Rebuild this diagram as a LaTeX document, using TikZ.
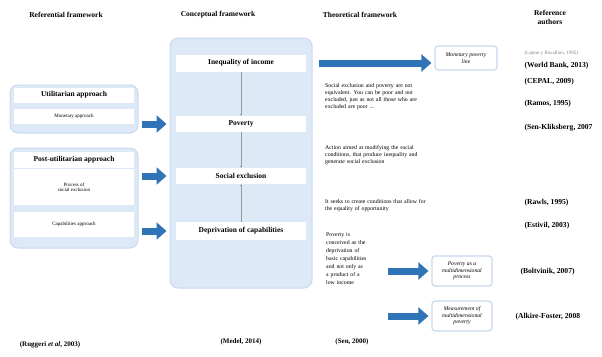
\documentclass[tikz,border=0pt]{standalone}
\usepackage{fontspec}
\setmainfont{Liberation Serif}
\usetikzlibrary{positioning, arrows.meta}
\definecolor{panelblue}{RGB}{221,233,247}
\definecolor{paneledge}{RGB}{200,217,238}
\definecolor{arrowblue}{RGB}{46,116,182}
\newcommand{\fsz}[1]{\fontsize{#1}{#1}\selectfont}

\begin{document}
\begin{tikzpicture}[x=1pt,y=-1pt,
    panel/.style={draw=paneledge, fill=panelblue, line width=1pt, rounded corners=8pt},
    bar/.style={fill=white, align=center, inner sep=1pt, font=\bfseries\fsz{7.5}},
    subbox/.style={fill=white, align=center, inner sep=1pt, font=\fsz{5}},
    header/.style={align=center, font=\bfseries\fsz{7.5}},
    theory/.style={anchor=north west, align=left, inner sep=0pt, font=\fontsize{5.8}{7.2}\selectfont},
    author/.style={anchor=west, font=\bfseries\fsz{7.6}},
    bottomref/.style={font=\bfseries\fsz{7}},
    ideabox/.style={draw=paneledge, fill=white, line width=1.2pt, rounded corners=3pt, align=center, font=\itshape\fontsize{5.7}{6.4}\selectfont},
    bigarrow/.style={draw=arrowblue, line width=7pt, -{Triangle[width=17pt,length=10pt]}},
    thinarrow/.style={draw=black!40, line width=0.4pt, -{Stealth[length=2pt,width=2pt]}}]
    \useasboundingbox (0,0) rectangle (602,356);

    % column headers
    \node[header] (h-ref) at (66,15) {Referential framework};
    \node[header] (h-con) at (218,15) {Conceptual framework};
    \node[header] (h-theo) at (360,15) {Theoretical framework};
    \node[header, font=\bfseries\fontsize{7.5}{9}\selectfont] (h-auth) at (550,17) {Reference\\authors};

    % referential framework
    \node[panel, minimum width=128pt, minimum height=48pt] (util) at (74,109) {};
    \node[bar, minimum width=120pt, minimum height=15pt] (util-t) at (74,95) {Utilitarian approach};
    \node[subbox, minimum width=120pt, minimum height=15pt] (monetary) at (74,116) {Monetary approach};
    \node[panel, minimum width=128pt, minimum height=100pt] (postutil) at (74,198) {};
    \node[bar, minimum width=120pt, minimum height=16pt] (postutil-t) at (74,160) {Post-utilitarian approach};
    \node[subbox, minimum width=120pt, minimum height=36pt] (process) at (74,187) {Process of\\social exclusion};
    \node[subbox, minimum width=120pt, minimum height=25pt] (capab) at (74,224) {Capabilities approach};

    % conceptual framework
    \node[panel, minimum width=142pt, minimum height=250pt] (concept) at (241,163) {};
    \node[bar, minimum width=130pt, minimum height=17pt] (income) at (241,63) {Inequality of income};
    \node[bar, minimum width=130pt, minimum height=16pt] (poverty) at (241,124) {Poverty};
    \node[bar, minimum width=130pt, minimum height=16pt] (socexcl) at (241,176) {Social exclusion};
    \node[bar, minimum width=130pt, minimum height=18pt] (depriv) at (241,231) {Deprivation of capabilities};
    \draw[thinarrow] (income) -- (poverty);
    \draw[thinarrow] (poverty) -- (socexcl);
    \draw[thinarrow] (depriv) -- (socexcl);

    % theoretical framework
    \node[theory, text width=96pt] (t-equiv) at (325,83) {Social exclusion and poverty are not\\equivalent. You can be poor and not\\excluded, just as not all those who are\\excluded are poor ...};
    \node[theory, text width=96pt] (t-action) at (325,145) {Action aimed at modifying the social\\conditions, that produce inequality and\\generate social exclusion};
    \node[theory, text width=110pt] (t-seeks) at (325,199) {It seeks to create conditions that allow for\\the equality of opportunity};
    \node[theory, text width=50pt, font=\fontsize{5.8}{8}\selectfont] (t-pov) at (326,232) {Poverty is\\conceived as the\\deprivation of\\basic capabilities\\and not only as\\a product of a\\low income};

    \node[ideabox, minimum width=62pt, minimum height=24pt] (money) at (466,58) {Monetary poverty\\line};
    \node[ideabox, minimum width=60pt, minimum height=30pt] (multiproc) at (462,271) {Poverty as a\\multidimensional\\process};
    \node[ideabox, minimum width=60pt, minimum height=30pt] (multimeas) at (462,316) {Measurement of\\multidimensional\\poverty};

    % arrows between the columns
    \draw[bigarrow, shorten <=3pt, shorten >=3pt] (util.east |- poverty) -- (concept.west |- poverty);
    \draw[bigarrow, shorten <=3pt, shorten >=3pt] (postutil.east |- socexcl) -- (concept.west |- socexcl);
    \draw[bigarrow, shorten <=3pt, shorten >=3pt] (postutil.east |- depriv) -- (concept.west |- depriv);
    \draw[bigarrow, shorten <=6pt, shorten >=3pt] (concept.east |- income) -- (money.west |- income);
    \draw[bigarrow, shorten <=12pt, shorten >=3pt] (t-pov.east |- multiproc) -- (multiproc.west);
    \draw[bigarrow, shorten <=12pt, shorten >=3pt] (t-pov.east |- multimeas) -- (multimeas.west);

    % reference authors
    \node[anchor=west, font=\fsz{5}, text=black!50] (a-lipton) at (521,53) {(Lipton y Ravallion, 1995)};
    \node[author] (a-wb) at (521,66) {(World Bank, 2013)};
    \node[author] (a-cepal) at (521,82) {(CEPAL, 2009)};
    \node[author] (a-ramos) at (521,104) {(Ramos, 1995)};
    \node[author] (a-sen) at (521,128) {(Sen-Kliksberg, 2007};
    \node[author] (a-rawls) at (521,203) {(Rawls, 1995)};
    \node[author] (a-estivil) at (521,226) {(Estivil, 2003)};
    \node[author] (a-boltv) at (517,272) {(Boltvinik, 2007)};
    \node[author] (a-alkire) at (512,317) {(Alkire-Foster, 2008};

    % bottom references
    \node[bottomref] (b-rug) at (50,345) {(Ruggeri \textit{et al}, 2003)};
    \node[bottomref] (b-medel) at (241,342) {(Medel, 2014)};
    \node[bottomref] (b-sen) at (352,342) {(Sen, 2000)};
\end{tikzpicture}
\end{document}
